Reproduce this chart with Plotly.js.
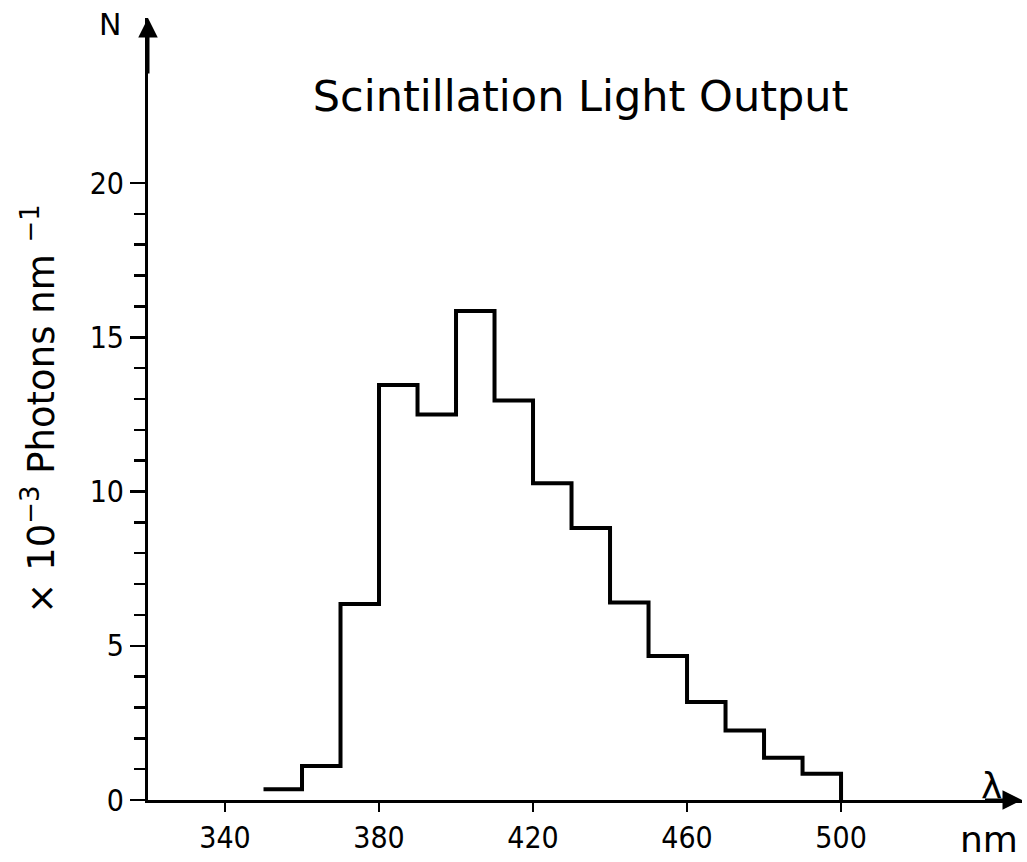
<!DOCTYPE html>
<html>
<head>
<meta charset="utf-8">
<script src="https://cdn.plot.ly/plotly-3.0.1.min.js"></script>
<style>html,body{margin:0;padding:0;background:#fff;}#chart{width:1027px;height:862px;}</style>
</head>
<body>
<div id="chart"></div>
<script>
// Bin left edges (nm) and light output per bin (x10^-3 photons nm^-1)
const binStart = [350, 360, 370, 380, 390, 400, 410, 420, 430, 440, 450, 460, 470, 480, 490];
const binEnd = 500;
const photons = [0.35, 1.1, 6.35, 13.45, 12.5, 15.85, 12.95, 10.27, 8.82, 6.4, 4.67, 3.18, 2.25, 1.37, 0.85];
const xTicks = [340, 380, 420, 460, 500];
const yTicks = [0, 5, 10, 15, 20];
const yMinorTicks = [1, 2, 3, 4, 6, 7, 8, 9, 11, 12, 13, 14, 16, 17, 18, 19];

const xs = binStart.concat([binEnd]);
const ys = photons.concat([0]);

const font = "'DejaVu Sans', sans-serif";
const fontC = "'DejaVu Sans Condensed', 'DejaVu Sans', sans-serif";

const trace = {
  type: 'scatter', mode: 'lines',
  x: xs, y: ys,
  line: {shape: 'hv', color: '#000', width: 4},
  hoverinfo: 'x+y'
};

const layout = {
  width: 1027, height: 862,
  margin: {l: 148, r: 5, t: 18, b: 62},
  paper_bgcolor: '#fff', plot_bgcolor: '#fff',
  showlegend: false,
  font: {family: font, color: '#000'},
  title: {
    text: 'Scintillation Light Output',
    font: {family: font, size: 43, color: '#000'},
    x: 0.495, xref: 'paper', xanchor: 'center',
    y: 1 - 96/862, yref: 'container', yanchor: 'middle'
  },
  xaxis: {
    range: [320, 547], showgrid: false, zeroline: false,
    showline: true, linecolor: '#000', linewidth: 3,
    tickmode: 'array', tickvals: xTicks, ticktext: xTicks.map(String),
    ticks: 'outside', ticklen: 9, tickwidth: 2.5, tickcolor: '#000',
    tickfont: {family: fontC, size: 30, color: '#000'},
    fixedrange: true
  },
  yaxis: {
    range: [0, 25.35], showgrid: false, zeroline: false,
    showline: true, linecolor: '#000', linewidth: 3,
    tickmode: 'array', tickvals: yTicks, ticktext: yTicks.map(String),
    ticks: 'outside', ticklen: 15, tickwidth: 2.5, tickcolor: '#000',
    tickfont: {family: fontC, size: 30, color: '#000'},
    minor: {tickmode: 'array', tickvals: yMinorTicks, ticks: 'outside', ticklen: 11, tickwidth: 2.5, tickcolor: '#000', showgrid: false},
    title: {
      text: '× 10<sup>−3</sup> Photons nm <sup>−1</sup>',
      font: {family: font, size: 37, color: '#000'},
      standoff: 24
    },
    fixedrange: true
  },
  annotations: [
    {xref: 'x', yref: 'y', x: 320, y: 25.35, axref: 'x', ayref: 'y', ax: 320, ay: 23.5, showarrow: true, arrowhead: 2, arrowsize: 1.3, arrowwidth: 3, arrowcolor: '#000', text: ''},
    {xref: 'x', yref: 'y', x: 547, y: 0, axref: 'x', ayref: 'y', ax: 537, ay: 0, showarrow: true, arrowhead: 2, arrowsize: 1.3, arrowwidth: 3, arrowcolor: '#000', text: ''},
    {xref: 'paper', yref: 'paper', x: (110-148)/874, y: (800-24)/782, text: 'N', showarrow: false, font: {family: font, size: 30, color: '#000'}, xanchor: 'center', yanchor: 'middle'},
    {xref: 'paper', yref: 'paper', x: (991-148)/874, y: (800-785)/782, text: 'λ', showarrow: false, font: {family: font, size: 36, color: '#000'}, xanchor: 'center', yanchor: 'middle'},
    {xref: 'paper', yref: 'paper', x: (989-148)/874, y: (800-839)/782, text: 'nm', showarrow: false, font: {family: font, size: 36, color: '#000'}, xanchor: 'center', yanchor: 'middle'}
  ]
};

Plotly.newPlot('chart', [trace], layout, {displayModeBar: false, staticPlot: true});
</script>
</body>
</html>
